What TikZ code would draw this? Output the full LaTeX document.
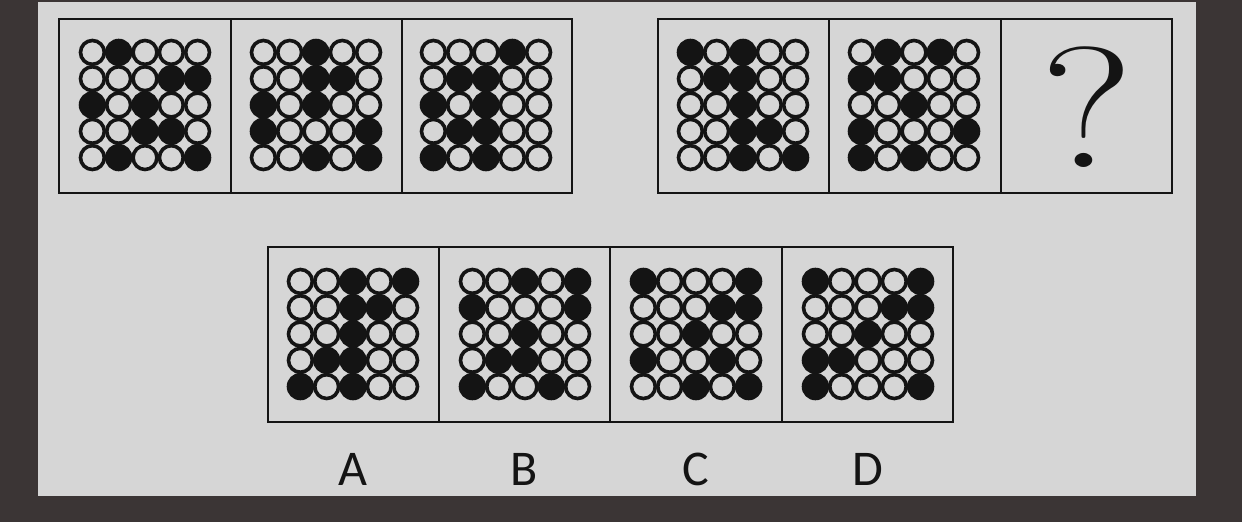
\documentclass[tikz,border=0pt]{standalone}
\usepackage{fontspec}
\newfontfamily\labelfont{Carlito}
\definecolor{darkbg}{HTML}{3B3535}
\definecolor{panel}{HTML}{D6D6D6}
\definecolor{ink}{HTML}{141414}
\newcommand\dotgrid[3]{%
  \foreach \rowlist [count=\r] in {#3} {%
    \foreach \v [count=\c] in \rowlist {%
      \ifnum\v=1
        \fill[ink] ({#1+(\c-3)*26.3},{#2+(\r-3)*26.3}) circle (13.7);
      \else
        \draw[ring] ({#1+(\c-3)*26.3},{#2+(\r-3)*26.3}) circle (11.9);
      \fi
    }%
  }%
}
\tikzset{
  ring/.style={draw=ink, line width=3.6pt, fill=panel},
  frame/.style={draw=ink, line width=2.8pt},
  lbl/.style={font=\labelfont\fontsize{50}{50}\selectfont, text=ink, inner sep=0pt}
}
\begin{document}
\begin{tikzpicture}[x=1pt,y=-1pt]
\useasboundingbox (0,0) rectangle (1242,522);
\fill[darkbg] (0,0) rectangle (1242,522);
\fill[panel] (38,2) rectangle (1196,496);
% top-left strip
\draw[frame] (59,19) rectangle (572,193);
\draw[frame] (231,19) -- (231,193);
\draw[frame] (402,19) -- (402,193);
% top-right strip
\draw[frame] (658,19) rectangle (1172,193);
\draw[frame] (829,19) -- (829,193);
\draw[frame] (1001,19) -- (1001,193);
% bottom strip
\draw[frame] (268,247) rectangle (953,422);
\draw[frame] (439,247) -- (439,422);
\draw[frame] (610,247) -- (610,422);
\draw[frame] (782,247) -- (782,422);
% grids
\dotgrid{145}{105}{{0,1,0,0,0},{0,0,0,1,1},{1,0,1,0,0},{0,0,1,1,0},{0,1,0,0,1}}
\dotgrid{316}{105}{{0,0,1,0,0},{0,0,1,1,0},{1,0,1,0,0},{1,0,0,0,1},{0,0,1,0,1}}
\dotgrid{486}{105}{{0,0,0,1,0},{0,1,1,0,0},{1,0,1,0,0},{0,1,1,0,0},{1,0,1,0,0}}
\dotgrid{743}{105}{{1,0,1,0,0},{0,1,1,0,0},{0,0,1,0,0},{0,0,1,1,0},{0,0,1,0,1}}
\dotgrid{914}{105}{{0,1,0,1,0},{1,1,0,0,0},{0,0,1,0,0},{1,0,0,0,1},{1,0,1,0,0}}
\dotgrid{353}{334}{{0,0,1,0,1},{0,0,1,1,0},{0,0,1,0,0},{0,1,1,0,0},{1,0,1,0,0}}
\dotgrid{525}{334}{{0,0,1,0,1},{1,0,0,0,1},{0,0,1,0,0},{0,1,1,0,0},{1,0,0,1,0}}
\dotgrid{696}{334}{{1,0,0,0,1},{0,0,0,1,1},{0,0,1,0,0},{1,0,0,1,0},{0,0,1,0,1}}
\dotgrid{868}{334}{{1,0,0,0,1},{0,0,0,1,1},{0,0,1,0,0},{1,1,0,0,0},{1,0,0,0,1}}
% question mark
\node[inner sep=0pt, text=ink, font=\fontsize{172}{172}\selectfont, xscale=1.25] (q) at (1087,107) {?};
% labels
\node[lbl] (la) at (353,469) {A};
\node[lbl] (lb) at (524,469) {B};
\node[lbl] (lc) at (696,469) {C};
\node[lbl] (ld) at (868,469) {D};
\end{tikzpicture}
\end{document}
